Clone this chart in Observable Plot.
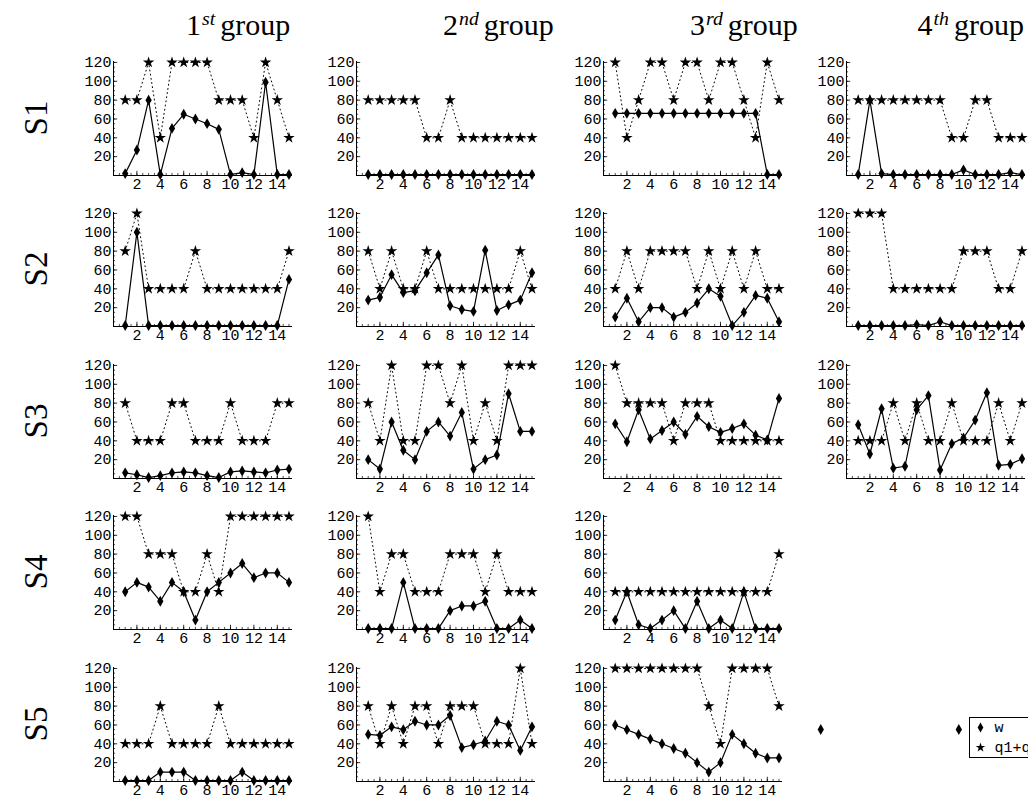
<!DOCTYPE html>
<html>
<head>
<meta charset="utf-8">
<script src="https://cdn.jsdelivr.net/npm/d3@7"></script>
<script src="https://cdn.jsdelivr.net/npm/@observablehq/plot@0.6"></script>
<style>
  body { margin: 0; background: #fff; }
  #root { position: relative; width: 1028px; height: 801px; overflow: hidden; background: #fff; }
  .title { position: absolute; font-family: "Liberation Serif", "DejaVu Serif", serif; font-size: 30px; line-height: 1; white-space: nowrap; color: #000; }
  .title .sup { font-size: 0.66em; font-style: italic; position: relative; top: -0.52em; margin-left: 1px; margin-right: 5px; }
  .rowlab { position: absolute; width: 70px; height: 36px; line-height: 36px; text-align: center; font-family: "Liberation Serif", "DejaVu Serif", serif; font-size: 33px; transform: rotate(-90deg); color: #000; }
  .cell { position: absolute; }
  .cell svg { max-width: none !important; display: block; }
</style>
</head>
<body>
<div id="root"></div>
<script>
// ---------- data ----------
const xIndex = [1,2,3,4,5,6,7,8,9,10,11,12,13,14,15];
const xTicks = [2,4,6,8,10,12,14];
const yTicks = [20,40,60,80,100,120];
const groupNumbers = ["1","2","3","4"];
const groupSuffixes = ["st","nd","rd","th"];
const seriesNames = ["S1","S2","S3","S4","S5"];
const legendLabels = ["w","q1+q2"];
const legendSymbols = ["diamond","star"];
const strayMarkers = [-2.2, 9.6];

// w series (solid, diamonds), per group
const wS1 = [
  [2,27,80,1,50,65,60,55,49,1,3,1,99,1,1],
  [1,1,1,1,1,1,1,1,1,1,1,1,1,1,1],
  [66,66,66,66,66,66,66,66,66,66,66,66,66,1,1],
  [1,80,2,1,1,1,1,1,1,6,1,1,1,3,1]
];
const qS1 = [
  [80,80,120,40,120,120,120,120,80,80,80,40,120,80,40],
  [80,80,80,80,80,40,40,80,40,40,40,40,40,40,40],
  [120,40,80,120,120,80,120,120,80,120,120,80,40,120,80],
  [80,80,80,80,80,80,80,80,40,40,80,80,40,40,40]
];
const wS2 = [
  [1,100,1,1,1,1,1,1,1,1,1,1,1,1,50],
  [28,31,55,36,38,57,76,22,18,16,81,17,23,28,57],
  [10,30,5,20,20,10,15,25,40,32,1,15,33,30,5],
  [1,1,1,1,1,2,1,5,1,1,1,1,1,1,1]
];
const qS2 = [
  [80,120,40,40,40,40,80,40,40,40,40,40,40,40,80],
  [80,40,80,40,40,80,40,40,40,40,40,40,40,80,40],
  [40,80,40,80,80,80,80,40,80,40,80,40,80,40,40],
  [120,120,120,40,40,40,40,40,40,80,80,80,40,40,80]
];
const wS3 = [
  [6,4,1,3,6,7,6,3,1,7,8,7,6,9,10],
  [20,10,60,30,20,50,60,45,70,10,20,25,90,50,50],
  [58,39,73,42,51,60,47,66,55,49,53,58,46,41,85],
  [57,26,74,11,13,73,88,9,37,43,62,91,14,15,21]
];
const qS3 = [
  [80,40,40,40,80,80,40,40,40,80,40,40,40,80,80],
  [80,40,120,40,40,120,120,80,120,40,80,40,120,120,120],
  [120,80,80,80,80,40,80,80,80,40,40,40,40,40,40],
  [40,40,40,80,40,80,40,40,80,40,40,40,80,40,80]
];
const wS4 = [
  [40,50,45,30,50,40,10,40,50,60,70,55,60,60,50],
  [1,1,1,50,1,1,1,20,25,25,30,1,1,10,1],
  [10,40,5,1,10,20,1,30,1,10,1,40,1,1,1]
];
const qS4 = [
  [120,120,80,80,80,40,40,80,40,120,120,120,120,120,120],
  [120,40,80,80,40,40,40,80,80,80,40,80,40,40,40],
  [40,40,40,40,40,40,40,40,40,40,40,40,40,40,80]
];
const wS5 = [
  [1,1,1,10,10,10,1,1,1,1,10,1,1,1,1],
  [50,49,58,55,64,60,60,70,36,39,43,64,60,33,58],
  [60,55,50,45,40,35,30,20,10,20,50,40,30,25,25]
];
const qS5 = [
  [40,40,40,80,40,40,40,40,80,40,40,40,40,40,40],
  [80,40,80,40,80,80,40,80,80,80,40,40,40,120,40],
  [120,120,120,120,120,120,120,120,80,40,120,120,120,120,80]
];

const wRows = [wS1, wS2, wS3, wS4, wS5];
const qRows = [qS1, qS2, qS3, qS4, qS5];

// ---------- layout ----------
const colLeft = [68, 311, 558, 801];
const rowTop = [55, 206, 358, 509, 661];
const titleLeft = [186, 443, 690, null];
const W = 230, H = 141, ML = 45, MR = 6, MT = 6, MB = 21;
const XDOM = [0, 15.3], YDOM = [0, 121];
const xMinor = d3.range(0.5, 15.01, 0.5);
const yMinor = d3.range(5, 120.01, 5);
const monoFont = "'Liberation Mono', 'DejaVu Sans Mono', monospace";

const root = document.getElementById("root");

function place(node, left, top, w, h) {
  const d = document.createElement("div");
  d.className = "cell";
  d.style.left = left + "px";
  d.style.top = top + "px";
  d.style.width = w + "px";
  d.style.height = h + "px";
  d.appendChild(node);
  root.appendChild(d);
}

function panel(w, q) {
  const data = xIndex.map((x, i) => ({x, w: w[i], q: q[i]}));
  return Plot.plot({
    width: W, height: H,
    marginLeft: ML, marginRight: MR, marginTop: MT, marginBottom: MB,
    x: {domain: XDOM, label: null},
    y: {domain: YDOM, label: null},
    style: {fontFamily: monoFont, fontSize: "15px", background: "transparent", overflow: "visible", color: "black"},
    marks: [
      Plot.ruleX(xMinor, {x: d => d, y1: 0, y2: 2.2, stroke: "black", strokeWidth: 0.7}),
      Plot.ruleX(xTicks, {x: d => d, y1: 0, y2: 4.5, stroke: "black", strokeWidth: 0.8}),
      Plot.ruleY(yMinor, {y: d => d, x1: 0, x2: 0.18, stroke: "black", strokeWidth: 0.7}),
      Plot.ruleY(yTicks, {y: d => d, x1: 0, x2: 0.36, stroke: "black", strokeWidth: 0.8}),
      Plot.ruleY([0], {stroke: "black", strokeWidth: 1}),
      Plot.ruleX([0], {stroke: "black", strokeWidth: 1}),
      Plot.axisX({ticks: xTicks, tickSize: 0, tickPadding: 3, label: null, fontSize: 15, tickFormat: d => String(d)}),
      Plot.axisY({ticks: yTicks, tickSize: 0, tickPadding: 2, label: null, fontSize: 15, tickFormat: d => String(d)}),
      Plot.line(data, {x: "x", y: "q", stroke: "black", strokeWidth: 1, strokeDasharray: "1,3.2"}),
      Plot.dot(data, {x: "x", y: "q", symbol: "star", fill: "black", r: 3.6}),
      Plot.line(data, {x: "x", y: "w", stroke: "black", strokeWidth: 1.2}),
      Plot.dot(data, {x: "x", y: "w", symbol: "diamond", fill: "black", r: 3.3})
    ]
  });
}

// titles
groupNumbers.forEach((n, i) => {
  const t = document.createElement("div");
  t.className = "title";
  if (titleLeft[i] == null) t.style.right = "4px"; else t.style.left = titleLeft[i] + "px";
  t.style.top = "10px";
  t.innerHTML = n + '<span class="sup">' + groupSuffixes[i] + '</span>group';
  root.appendChild(t);
});

// row labels
seriesNames.forEach((s, r) => {
  const l = document.createElement("div");
  l.className = "rowlab";
  l.textContent = s;
  const cy = rowTop[r] + MT + 57;
  l.style.left = (36 - 35) + "px";
  l.style.top = (cy - 18) + "px";
  root.appendChild(l);
});

// panels
wRows.forEach((rowW, r) => {
  rowW.forEach((w, c) => {
    place(panel(w, qRows[r][c]), colLeft[c], rowTop[r], W, H);
  });
});

// stray markers in the last cell
place(Plot.plot({
  width: W, height: 20, marginLeft: ML, marginRight: MR, marginTop: 0, marginBottom: 0,
  x: {domain: XDOM, axis: null},
  y: {domain: [0, 1], axis: null},
  style: {background: "transparent", overflow: "visible"},
  marks: [Plot.dot(strayMarkers, {x: d => d, y: () => 0.5, symbol: "diamond", fill: "black", r: 3.3})]
}), colLeft[3], 719, W, 20);

// legend
const legendItems = legendLabels.map((label, i) => ({label, symbol: legendSymbols[i]}));
place(Plot.plot({
  width: 90, height: 44, marginLeft: 0, marginRight: 0, marginTop: 3, marginBottom: 1,
  y: {type: "point", domain: legendLabels, axis: null, padding: 0.5},
  style: {fontFamily: monoFont, fontSize: "15px", background: "white", overflow: "visible", color: "black"},
  marks: [
    Plot.frame({stroke: "black", strokeWidth: 1}),
    Plot.dot(legendItems, {y: "label", frameAnchor: "left", dx: 11, symbol: "symbol", fill: "black", r: 3}),
    Plot.text(legendItems, {y: "label", text: "label", frameAnchor: "left", dx: 25, textAnchor: "start", fill: "black", fontSize: 15})
  ]
}), 969, 714, 90, 44);
</script>
</body>
</html>
